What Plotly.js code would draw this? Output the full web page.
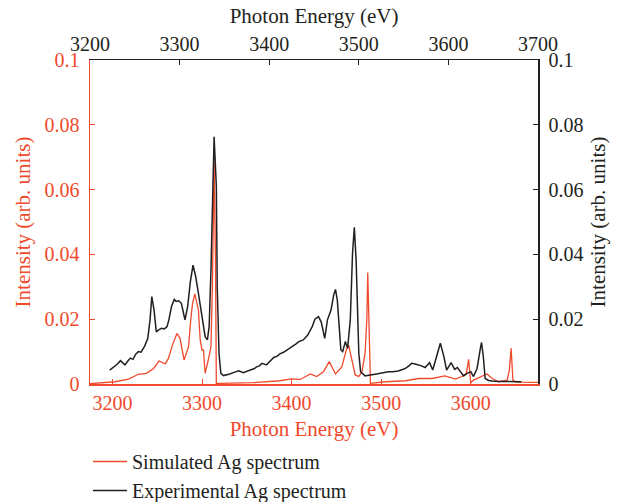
<!DOCTYPE html>
<html>
<head>
<meta charset="utf-8">
<script src="https://cdn.plot.ly/plotly-3.0.1.min.js"></script>
<style>html,body{margin:0;padding:0;background:#fff;}#chart{width:620px;height:502px;}</style>
</head>
<body>
<div id="chart"></div>
<script>
// Simulated Ag spectrum (bottom red axis)
const simEnergy = [3175, 3181, 3203, 3218, 3229, 3238, 3246, 3252, 3259, 3262.5, 3267, 3272, 3275.5, 3280, 3285, 3287.5, 3289.5, 3292, 3296, 3298, 3300, 3301.6, 3303.5, 3307, 3310, 3311.6, 3313.5, 3315, 3316, 3320, 3357, 3387, 3400, 3409.6, 3421, 3428, 3435.6, 3442, 3449, 3456, 3461, 3463.6, 3467, 3471, 3475, 3478.6, 3482, 3484, 3485, 3486, 3488, 3504.6, 3527, 3542, 3557, 3571, 3583, 3590, 3595, 3596.7, 3597.6, 3598.7, 3600, 3603, 3610.8, 3618, 3624, 3631, 3640.6, 3643, 3645, 3647, 3650, 3675.5];
const simIntensity = [0.0001, 0.0002, 0.0007, 0.0015, 0.0030, 0.0033, 0.0048, 0.0071, 0.0062, 0.0079, 0.0120, 0.0156, 0.0141, 0.0074, 0.0115, 0.0200, 0.0250, 0.0278, 0.0228, 0.0136, 0.0105, 0.0105, 0.0033, 0.0074, 0.0115, 0.0300, 0.0681, 0.0400, 0.0002, 0.0002, 0.0004, 0.0010, 0.0016, 0.0014, 0.0031, 0.0023, 0.0038, 0.0069, 0.0031, 0.0053, 0.0105, 0.0120, 0.0074, 0.0028, 0.0023, 0.0038, 0.0095, 0.0200, 0.0344, 0.0200, 0.0002, 0.0007, 0.0010, 0.0017, 0.0017, 0.0025, 0.0015, 0.0023, 0.0033, 0.0060, 0.0076, 0.0040, 0.0004, 0.0012, 0.0023, 0.0031, 0.0017, 0.0007, 0.0012, 0.0043, 0.0110, 0.0012, 0.0006, 0.0005];

// Experimental Ag spectrum (top black axis)
const expEnergy = [3222, 3226, 3230, 3234, 3236, 3239, 3242, 3245, 3248, 3251, 3254, 3257, 3261, 3264.5, 3267, 3269, 3271.5, 3274, 3277, 3280, 3283, 3286, 3288, 3291, 3294, 3296, 3299, 3302, 3304, 3306, 3309, 3312, 3315, 3318, 3321, 3325, 3328.5, 3331, 3333, 3335, 3337, 3338.5, 3341, 3342, 3344, 3346, 3349, 3353, 3356, 3360, 3363, 3366, 3371, 3375, 3379, 3383, 3386, 3389, 3392, 3397, 3401, 3405, 3409, 3412, 3416, 3420, 3424, 3427, 3430, 3433, 3438, 3443, 3448, 3451, 3455, 3458, 3462, 3465, 3469, 3472, 3474, 3476, 3478.5, 3480, 3482, 3485, 3487.5, 3490.5, 3493, 3495, 3497, 3500, 3502, 3507, 3511, 3515, 3520, 3524, 3528, 3533, 3538, 3544, 3548, 3552, 3556, 3559, 3563, 3567, 3570, 3574, 3579, 3582.5, 3587, 3591, 3595, 3598, 3603, 3607, 3610, 3613, 3617, 3621, 3625, 3628, 3632, 3636, 3637, 3639, 3641, 3645, 3649, 3656, 3664, 3672, 3681.5];
const expIntensity = [0.0043, 0.0052, 0.0060, 0.0072, 0.0066, 0.0059, 0.0070, 0.0080, 0.0076, 0.0092, 0.0100, 0.0098, 0.0117, 0.0141, 0.0198, 0.0270, 0.0228, 0.0161, 0.0168, 0.0172, 0.0170, 0.0177, 0.0198, 0.0239, 0.0261, 0.0255, 0.0257, 0.0249, 0.0223, 0.0198, 0.0239, 0.0316, 0.0367, 0.0331, 0.0280, 0.0208, 0.0146, 0.0136, 0.0177, 0.0352, 0.0609, 0.0763, 0.0610, 0.0300, 0.0095, 0.0033, 0.0026, 0.0028, 0.0031, 0.0035, 0.0039, 0.0041, 0.0035, 0.0040, 0.0043, 0.0047, 0.0053, 0.0056, 0.0064, 0.0059, 0.0072, 0.0082, 0.0086, 0.0093, 0.0098, 0.0105, 0.0113, 0.0120, 0.0124, 0.0131, 0.0136, 0.0151, 0.0177, 0.0200, 0.0208, 0.0192, 0.0141, 0.0198, 0.0228, 0.0275, 0.0292, 0.0259, 0.0177, 0.0105, 0.0100, 0.0131, 0.0110, 0.0198, 0.0403, 0.0484, 0.0383, 0.0095, 0.0038, 0.0025, 0.0027, 0.0028, 0.0031, 0.0033, 0.0035, 0.0038, 0.0038, 0.0040, 0.0044, 0.0048, 0.0056, 0.0064, 0.0062, 0.0059, 0.0056, 0.0051, 0.0066, 0.0043, 0.0084, 0.0126, 0.0084, 0.0043, 0.0066, 0.0045, 0.0051, 0.0038, 0.0025, 0.0033, 0.0038, 0.0023, 0.0048, 0.0115, 0.0128, 0.0084, 0.0017, 0.0011, 0.0009, 0.0008, 0.0007, 0.0007, 0.0007];

const yTickVals = [0, 0.02, 0.04, 0.06, 0.08, 0.1];
const yTickText = ['0', '0.02', '0.04', '0.06', '0.08', '0.1'];
const bottomTicks = [3200, 3300, 3400, 3500, 3600];
const topTicks = [3200, 3300, 3400, 3500, 3600, 3700];

const RED = '#ef4a2c';
const BLK = '#231f20';
const FONT = 'Liberation Serif, Times New Roman, serif';

const traces = [
  {
    x: expEnergy, y: expIntensity, xaxis: 'x2', yaxis: 'y2',
    type: 'scatter', mode: 'lines', name: 'Experimental Ag spectrum',
    line: {color: BLK, width: 1.5}, legendrank: 2
  },
  {
    x: simEnergy, y: simIntensity, xaxis: 'x', yaxis: 'y',
    type: 'scatter', mode: 'lines', name: 'Simulated Ag spectrum',
    line: {color: RED, width: 1.3}, legendrank: 1
  }
];

const layout = {
  width: 620, height: 502,
  margin: {l: 90, r: 82, t: 60, b: 118, autoexpand: false},
  paper_bgcolor: '#fff', plot_bgcolor: '#fff',
  font: {family: FONT, size: 20, color: BLK},
  showlegend: true,
  legend: {
    x: -0.0045, xanchor: 'left', y: -0.179, yanchor: 'top',
    orientation: 'v', font: {family: FONT, size: 20, color: BLK},
    bgcolor: 'rgba(0,0,0,0)', tracegroupgap: 0, itemwidth: 34
  },
  xaxis: {
    range: [3175, 3675], tickvals: bottomTicks,
    showline: true, linecolor: RED, linewidth: 1.5,
    ticks: 'inside', ticklen: 5, tickcolor: RED, tickwidth: 1,
    tickfont: {family: FONT, size: 20, color: RED},
    showgrid: false, zeroline: false,
    title: {text: 'Photon Energy (eV)', font: {family: FONT, size: 21, color: RED}, standoff: 9}
  },
  xaxis2: {
    range: [3200, 3700], tickvals: topTicks, overlaying: 'x', side: 'top', anchor: 'y',
    showline: true, linecolor: BLK, linewidth: 1.5,
    ticks: 'inside', ticklen: 5, tickcolor: BLK, tickwidth: 1,
    tickfont: {family: FONT, size: 20, color: BLK},
    showgrid: false, zeroline: false,
    title: {text: 'Photon Energy (eV)', font: {family: FONT, size: 21, color: BLK}, standoff: 3}
  },
  yaxis: {
    range: [0, 0.1], tickvals: yTickVals, ticktext: yTickText,
    showline: true, linecolor: RED, linewidth: 1.5,
    ticks: 'inside', ticklen: 5, tickcolor: RED, tickwidth: 1,
    tickfont: {family: FONT, size: 20, color: RED}, ticklabelstandoff: 5,
    showgrid: false, zeroline: false,
    title: {text: 'Intensity (arb. units)', font: {family: FONT, size: 21, color: RED}, standoff: 8}
  },
  yaxis2: {
    range: [0, 0.1], tickvals: yTickVals, ticktext: yTickText,
    overlaying: 'y', side: 'right', anchor: 'x',
    showline: true, linecolor: BLK, linewidth: 1.5,
    ticks: 'inside', ticklen: 5, tickcolor: BLK, tickwidth: 1,
    tickfont: {family: FONT, size: 20, color: BLK}, ticklabelstandoff: 5,
    showgrid: false, zeroline: false,
    title: {text: 'Intensity (arb. units)', font: {family: FONT, size: 21, color: BLK}, standoff: 8}
  }
};

Plotly.newPlot('chart', traces, layout, {staticPlot: true, displayModeBar: false});
</script>
</body>
</html>
